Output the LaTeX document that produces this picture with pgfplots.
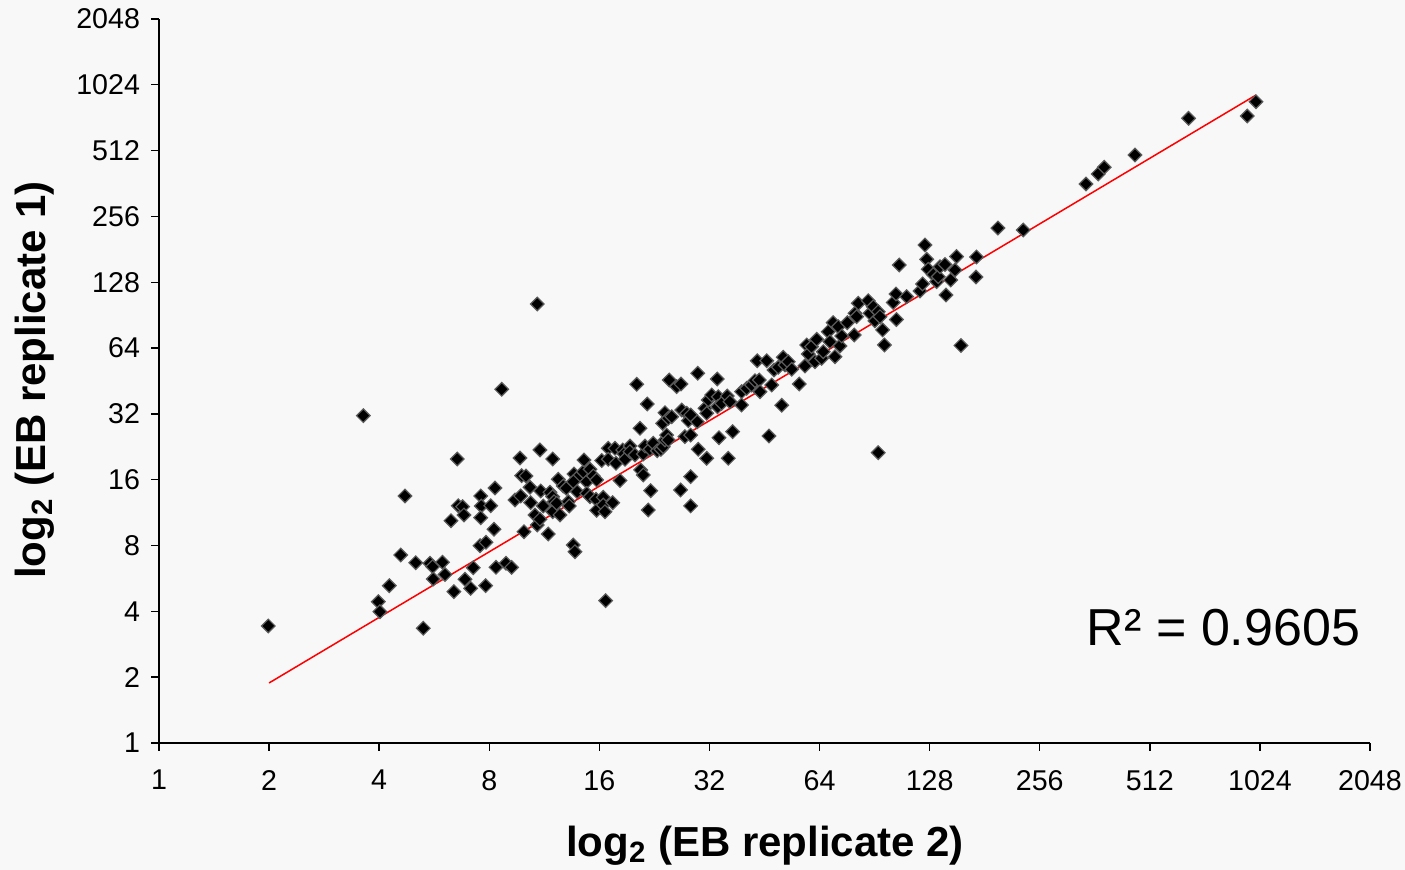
\documentclass[border=0pt]{standalone}
\usepackage{pgfplots}
\pgfplotsset{compat=1.18}
\usepackage{fontspec}
\setmainfont{Liberation Sans}
\definecolor{bg}{HTML}{F8F8F8}
\definecolor{mk}{HTML}{5A5A5A}
\begin{document}
\begin{tikzpicture}
\fill[bg] (0,0) rectangle (702.5pt,435pt);
\useasboundingbox (0,0) rectangle (702.5pt,435pt);
\begin{axis}[
  at={(79.5pt,63.5pt)}, anchor=south west,
  scale only axis, width=605.5pt, height=362pt,
  xmin=0, xmax=11, ymin=0, ymax=11,
  axis x line*=bottom, axis y line*=left,
  axis line style={black, line width=0.7pt},
  tick align=outside, major tick length=4pt,
  tick style={black, line width=0.7pt},
  xtick={0,...,11}, ytick={0,...,11},
  xticklabels={1,2,4,8,16,32,64,128,256,512,1024,2048},
  yticklabels={1,2,4,8,16,32,64,128,256,512,1024,2048},
  tick label style={font=\fontsize{14.3}{16}\selectfont},
  yticklabel style={xshift=-2pt},
  xticklabel style={yshift=-6pt},
  clip=false,
]
\addplot[only marks, mark=square*, mark size=2.4pt,
  mark options={rotate=45, draw=mk, fill=black, line width=0.6pt}] table {
x y
0.993 1.778
1.856 4.973
2.234 3.753
1.992 2.147
2.007 1.995
2.092 2.390
2.195 2.856
2.332 2.739
2.401 1.743
2.461 2.730
2.486 2.679
2.575 2.747
2.491 2.492
2.598 2.560
2.652 3.377
2.679 2.299
2.709 4.315
2.718 3.605
2.758 3.590
2.770 3.464
2.779 2.487
2.831 2.350
2.855 2.663
2.922 3.753
2.927 3.601
2.922 3.423
2.916 2.998
2.970 3.049
2.967 2.390
3.013 3.605
3.052 3.874
3.043 3.247
3.061 2.669
3.113 5.374
3.152 2.730
3.203 2.669
3.233 3.692
3.279 4.330
3.285 3.753
3.294 4.061
3.333 4.057
3.315 3.210
3.370 3.885
3.376 3.651
3.415 3.464
3.436 6.670
3.436 3.312
3.460 4.452
3.460 3.399
3.467 3.829
3.490 3.601
3.536 3.175
3.551 3.809
3.576 4.315
3.576 3.742
3.588 3.666
3.576 3.514
3.612 3.642
3.627 4.006
3.642 3.464
3.672 3.905
3.700 3.870
3.718 3.666
3.727 3.601
3.763 3.008
3.778 2.906
3.769 4.087
3.794 4.022
3.763 3.970
3.799 3.818
3.854 4.122
3.860 4.300
3.885 3.970
3.885 3.794
3.915 4.158
3.915 3.742
3.945 4.057
3.975 3.996
3.969 3.703
3.975 3.535
4.021 4.292
4.035 3.733
4.035 3.616
4.051 3.514
4.057 2.162
4.081 4.477
4.081 4.310
4.121 3.651
4.151 4.249
4.142 4.477
4.187 3.988
4.212 4.452
4.223 4.391
4.233 4.310
4.278 4.512
4.278 4.426
4.323 4.376
4.339 5.450
4.369 4.781
4.375 4.148
4.399 4.072
4.399 4.391
4.414 4.512
4.435 5.150
4.444 3.540
4.460 4.462
4.466 3.833
4.490 4.553
4.526 4.441
4.559 4.462
4.580 4.502
4.575 4.857
4.596 5.018
4.596 4.603
4.611 4.679
4.626 4.933
4.626 4.603
4.635 5.515
4.657 4.957
4.702 5.413
4.741 5.454
4.738 3.844
4.748 5.059
4.777 4.654
4.793 5.009
4.808 4.897
4.829 4.983
4.829 4.679
4.829 4.046
4.829 3.601
4.889 4.881
4.893 5.617
4.898 4.462
4.959 5.085
4.975 5.009
4.975 4.325
4.989 5.211
5.020 5.287
5.071 5.530
5.080 5.261
5.074 5.109
5.086 4.638
5.111 5.161
5.162 5.272
5.171 4.325
5.186 5.185
5.211 4.730
5.292 5.337
5.292 5.135
5.338 5.389
5.383 5.439
5.413 5.504
5.434 5.808
5.452 5.515
5.459 5.337
5.520 5.808
5.540 4.664
5.565 5.439
5.586 5.667
5.625 5.708
5.656 5.131
5.670 5.860
5.686 5.743
5.716 5.793
5.747 5.678
5.816 5.454
5.867 5.728
5.883 6.047
5.897 5.910
5.928 6.021
5.958 5.793
5.974 6.133
6.019 5.845
6.034 5.945
6.079 6.249
6.094 6.097
6.124 6.386
6.140 5.869
6.170 6.325
6.185 6.032
6.201 6.183
6.252 6.386
6.315 6.199
6.322 6.528
6.337 6.477
6.352 6.680
6.442 6.720
6.458 6.528
6.488 6.629
6.503 6.414
6.533 6.553
6.549 6.477
6.533 4.411
6.573 6.275
6.589 6.047
6.669 6.693
6.694 6.822
6.698 6.434
6.724 7.262
6.791 6.781
6.912 6.867
6.936 6.974
6.957 7.566
6.973 7.349
6.987 7.197
7.033 7.118
7.064 7.009
7.078 7.085
7.094 7.236
7.139 7.270
7.148 6.806
7.191 7.034
7.230 7.186
7.245 7.391
7.284 6.039
7.425 7.384
7.421 7.080
7.620 7.824
7.850 7.794
8.420 8.493
8.531 8.645
8.586 8.747
8.865 8.933
9.352 9.491
9.885 9.526
9.964 9.743
};
\addplot[red, line width=0.75pt] coordinates {(1.0,0.912) (9.965,9.845)};
\node[anchor=center, font=\fontsize{26}{30}\selectfont] at (axis cs:9.67,1.76) {R² = 0.9605};
\end{axis}
\node[rotate=90, font=\fontsize{21}{24}\selectfont\bfseries] at (17.5pt,245pt) {log\textsubscript{2} (EB replicate 1)};
\node[font=\fontsize{21}{24}\selectfont\bfseries] at (382.5pt,12pt) {log\textsubscript{2} (EB replicate 2)};
\end{tikzpicture}
\end{document}
